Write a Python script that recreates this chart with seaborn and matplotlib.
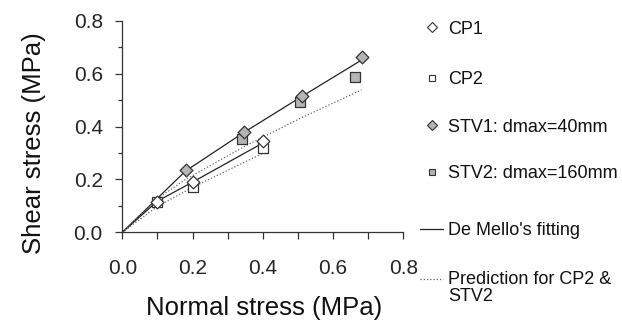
import matplotlib
matplotlib.use("Agg")
import matplotlib.pyplot as plt
from matplotlib.lines import Line2D
from matplotlib.ticker import MultipleLocator
import seaborn as sns

# Measured shear test results (normal stress, shear stress) in MPa
cp1_x = [0.10, 0.20, 0.40]
cp1_y = [0.116, 0.192, 0.347]
cp2_x = [0.10, 0.20, 0.40]
cp2_y = [0.113, 0.173, 0.318]
stv1_x = [0.18, 0.346, 0.512, 0.681]
stv1_y = [0.236, 0.381, 0.517, 0.665]
stv2_x = [0.341, 0.507, 0.663]
stv2_y = [0.352, 0.492, 0.587]

# De Mello fitted curves
fit_cp1_x = [0.0, 0.10, 0.20, 0.40]
fit_cp1_y = [0.0, 0.118, 0.190, 0.338]
fit_stv1_x = [0.0, 0.18, 0.346, 0.512, 0.681]
fit_stv1_y = [0.0, 0.232, 0.378, 0.515, 0.652]

# Predicted curves for CP2 and STV2
pred_cp2_x = [0.0, 0.10, 0.20, 0.40]
pred_cp2_y = [0.0, 0.098, 0.170, 0.299]
pred_stv2_x = [0.0, 0.10, 0.18, 0.346, 0.512, 0.681]
pred_stv2_y = [0.0, 0.128, 0.200, 0.324, 0.435, 0.539]

x_ticks = [0.0, 0.2, 0.4, 0.6, 0.8]
y_ticks = [0.0, 0.2, 0.4, 0.6, 0.8]

legend_labels = ["CP1", "CP2", "STV1: dmax=40mm", "STV2: dmax=160mm",
                 "De Mello's fitting", "Prediction for CP2 &", "STV2"]

sns.set_style("white")
plt.rcParams["font.family"] = ["Liberation Sans", "DejaVu Sans"]

W, H = 622, 320
fig = plt.figure(figsize=(W / 100, H / 100), dpi=100)
ax = fig.add_axes([122.3 / W, 1 - 232.3 / H, 281.0 / W, 211.3 / H])

edge = "#333333"
grey = "#b4b4b4"
line_c = "#222222"
dot_c = "#666666"
dots = (0, (1, 1.6))

# fitted lines
sns.lineplot(x=fit_cp1_x, y=fit_cp1_y, ax=ax, sort=False, color=line_c, lw=0.9)
sns.lineplot(x=fit_stv1_x, y=fit_stv1_y, ax=ax, sort=False, color=line_c, lw=0.9)
# predictions
sns.lineplot(x=pred_cp2_x, y=pred_cp2_y, ax=ax, sort=False, color=dot_c, lw=0.9, linestyle=dots)
sns.lineplot(x=pred_stv2_x, y=pred_stv2_y, ax=ax, sort=False, color=dot_c, lw=0.9, linestyle=dots)

# measured points
sns.scatterplot(x=stv2_x, y=stv2_y, ax=ax, marker="s", s=60, color=grey, edgecolor=edge, linewidth=0.9, zorder=3)
sns.scatterplot(x=stv1_x, y=stv1_y, ax=ax, marker="D", s=42, color=grey, edgecolor=edge, linewidth=0.9, zorder=3)
sns.scatterplot(x=cp2_x, y=cp2_y, ax=ax, marker="s", s=60, color="white", edgecolor=edge, linewidth=0.9, zorder=3)
sns.scatterplot(x=cp1_x, y=cp1_y, ax=ax, marker="D", s=42, color="white", edgecolor=edge, linewidth=0.9, zorder=4)

ax.set_xlim(0, 0.8)
ax.set_ylim(0, 0.8)
ax.set_xticks(x_ticks)
ax.set_yticks(y_ticks)
ax.set_xticklabels([f"{v:.1f}" for v in x_ticks])
ax.set_yticklabels([f"{v:.1f}" for v in y_ticks])
ax.xaxis.set_minor_locator(MultipleLocator(0.1))
ax.yaxis.set_minor_locator(MultipleLocator(0.1))
ax.tick_params(axis="x", which="major", direction="out", length=5, width=0.9,
               color=edge, labelsize=15, pad=14, bottom=True)
ax.tick_params(axis="x", which="minor", direction="out", length=5, width=0.9, color=edge, bottom=True)
ax.tick_params(axis="y", which="major", direction="out", length=5, width=0.9,
               color=edge, labelsize=15, pad=9, left=True)
ax.tick_params(axis="y", which="minor", direction="out", length=3, width=0.9, color=edge, left=True)
for side in ("top", "right"):
    ax.spines[side].set_visible(False)
for side in ("left", "bottom"):
    ax.spines[side].set_color(edge)
    ax.spines[side].set_linewidth(0.9)

# axis titles
fig.text(264 / W, 1 - 315 / H, "Normal stress (MPa)", fontsize=18.5,
         ha="center", va="baseline", color="#111111")
fig.text(34 / W, 1 - 143 / H, "Shear stress (MPa)", fontsize=18.5, rotation=90,
         ha="center", va="center", color="#111111")


def fx(px):
    return px / W


def fy(py):
    return 1 - py / H


# legend entries laid out down the right side
mk_x = 432
txt_x = 448
marker_rows = [
    (27, "D", 5.0, "white"),
    (78, "s", 5.0, "white"),
    (125, "D", 5.0, grey),
    (172, "s", 5.0, grey),
]
for (yc, mk, ms, fc), lab in zip(marker_rows, legend_labels[:4]):
    fig.add_artist(Line2D([fx(mk_x)], [fy(yc)], transform=fig.transFigure, marker=mk,
                          ms=ms, mfc=fc, mec=edge, mew=0.8, ls="none"))
    fig.text(fx(txt_x), fy(yc + 6.5), lab, fontsize=13, ha="left", va="baseline", color="#111111")

fig.add_artist(Line2D([fx(420), fx(443)], [fy(228.5), fy(228.5)], transform=fig.transFigure,
                      color=line_c, lw=0.9))
fig.text(fx(txt_x), fy(235), legend_labels[4], fontsize=13, ha="left", va="baseline", color="#111111")
fig.add_artist(Line2D([fx(420), fx(443)], [fy(279), fy(279)], transform=fig.transFigure,
                      color=dot_c, lw=0.9, linestyle=dots))
fig.text(fx(txt_x), fy(284), legend_labels[5], fontsize=13, ha="left", va="baseline", color="#111111")
fig.text(fx(txt_x), fy(301), legend_labels[6], fontsize=13, ha="left", va="baseline", color="#111111")

fig.savefig("out.png", dpi=100)
